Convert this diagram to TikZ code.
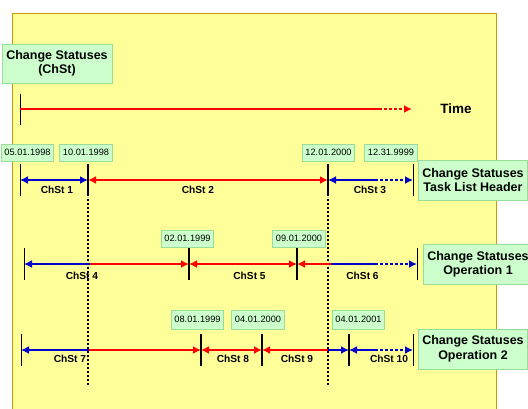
\documentclass[tikz,border=0pt]{standalone}
\usepackage{fontspec}
\setmainfont{Liberation Sans}
\usetikzlibrary{arrows.meta}
\usetikzlibrary{positioning}

\definecolor{bgyellow}{RGB}{255,255,153}
\definecolor{bgframe}{RGB}{204,153,0}
\definecolor{boxgreen}{RGB}{204,255,204}
\definecolor{boxframe}{RGB}{153,221,153}
\definecolor{chred}{RGB}{255,0,0}
\definecolor{chblue}{RGB}{0,0,204}

\tikzset{
  datebox/.style={draw=boxframe, fill=boxgreen, line width=1pt,
    font=\fontsize{9.2}{10}\selectfont, minimum width=51pt, minimum height=17pt},
  labelbox/.style={draw=boxframe, fill=boxgreen, line width=1pt, align=center,
    font=\bfseries\fontsize{12.5}{14.5}\selectfont, minimum width=104pt, minimum height=40pt},
  chlabel/.style={font=\bfseries\fontsize{10.2}{12}\selectfont},
  thintick/.style={line width=1pt},
  thicktick/.style={line width=2.5pt},
  cutline/.style={line width=2pt, dash pattern=on 2pt off 2pt},
  span/.style={line width=2.4pt},
  dotpart/.style={dash pattern=on 2.5pt off 2.5pt},
}

\begin{document}
\begin{tikzpicture}[x=1pt, y=-1pt, >={Latex[length=8pt,width=8pt]}]

    \useasboundingbox (0,0) rectangle (528,408);

    % background sheet
    \fill[bgyellow] (12,13) rectangle (496,412);
    \draw[bgframe, line width=1pt] (12,412) -- (12,13) -- (496,13) -- (496,412);

    % time axis
    \node[labelbox, minimum width=110pt, minimum height=39pt] (legend) at (57,63.5)
      {Change Statuses\\(ChSt)};
    \coordinate (t0) at (20,109);
    \coordinate (t1) at (379,109);
    \coordinate (t2) at (412,109);
    \draw[thintick] (t0) ++(0,-15.5) -- ++(0,31);
    \draw[span, chred] (t0) -- (t1);
    \draw[span, chred, dotpart, ->] (t1) -- (t2);
    \node[font=\bfseries\fontsize{13.5}{16}\selectfont] (time) at (456,109) {Time};

    % row 1: task list header
    \coordinate (a0) at (20,180);
    \coordinate (a1) at (88,180);
    \coordinate (a2) at (328,180);
    \coordinate (a3) at (375,180);
    \coordinate (a4) at (413,180);
    \draw[thintick] (a0) ++(0,-16) -- ++(0,32);
    \draw[thicktick] (a1) ++(0,-16) -- ++(0,32);
    \draw[thicktick] (a2) ++(0,-16) -- ++(0,32);
    \draw[thintick] (a4) ++(0,-16) -- ++(0,32);
    \draw[span, chblue, <->] (a0) -- (a1);
    \draw[span, chred, <->] (a1) -- (a2);
    \draw[span, chblue, <-] (a2) -- (a3);
    \draw[span, chblue, dotpart, ->] (a3) -- (a4);
    \node[chlabel] (s1) at (57,190) {ChSt 1};
    \node[chlabel] (s2) at (198,190) {ChSt 2};
    \node[chlabel] (s3) at (370,190) {ChSt 3};
    \node[datebox] (d1) at (27.5,152.5) {05.01.1998};
    \node[datebox] (d2) at (86,152.5) {10.01.1998};
    \node[datebox] (d3) at (328.5,152.5) {12.01.2000};
    \node[datebox] (d4) at (391,152.5) {12.31.9999};
    \node[labelbox] (header) at (473,180) {Change Statuses\\Task List Header};

    % dotted cut lines
    \coordinate (cut1) at (88,199);
    \coordinate (cut1e) at (88,386);
    \coordinate (cut2) at (328,199);
    \coordinate (cut2e) at (328,386);
    \draw[cutline] (cut1) -- (cut1e);
    \draw[cutline] (cut2) -- (cut2e);

    % row 2: operation 1
    \coordinate (b0) at (24,264);
    \coordinate (bc) at (90,264);
    \coordinate (b1) at (189,264);
    \coordinate (b2) at (297,264);
    \coordinate (bc2) at (331,264);
    \coordinate (b3) at (375,264);
    \coordinate (b4) at (417,264);
    \draw[thintick] (b0) ++(0,-16) -- ++(0,32);
    \draw[thicktick] (b1) ++(0,-16) -- ++(0,32);
    \draw[thicktick] (b2) ++(0,-16) -- ++(0,32);
    \draw[thintick] (b4) ++(0,-16) -- ++(0,32);
    \draw[span, chblue, <-] (b0) -- (bc);
    \draw[span, chred, ->] (bc) -- (b1);
    \draw[span, chred, <->] (b1) -- (b2);
    \draw[span, chred, <-] (b2) -- (bc2);
    \draw[span, chblue] (bc2) -- (b3);
    \draw[span, chblue, dotpart, ->] (b3) -- (b4);
    \node[chlabel] (s4) at (82,276) {ChSt 4};
    \node[chlabel] (s5) at (249.5,276) {ChSt 5};
    \node[chlabel] (s6) at (362.5,276) {ChSt 6};
    \node[datebox] (d5) at (187.5,238.5) {02.01.1999};
    \node[datebox] (d6) at (299,238.5) {09.01.2000};
    \node[labelbox] (oper1) at (478,264.5) {Change Statuses\\Operation 1};

    % row 3: operation 2
    \coordinate (c0) at (21,350);
    \coordinate (cc) at (89,350);
    \coordinate (c1) at (201,350);
    \coordinate (c2) at (262,350);
    \coordinate (cc2) at (328,350);
    \coordinate (c3) at (349,350);
    \coordinate (c4) at (375,350);
    \coordinate (c5) at (413,350);
    \draw[thintick] (c0) ++(0,-16) -- ++(0,32);
    \draw[thicktick] (c1) ++(0,-16) -- ++(0,32);
    \draw[thicktick] (c2) ++(0,-16) -- ++(0,32);
    \draw[thicktick] (c3) ++(0,-16) -- ++(0,32);
    \draw[thintick] (c5) ++(0,-16) -- ++(0,32);
    \draw[span, chblue, <-] (c0) -- (cc);
    \draw[span, chred, ->] (cc) -- (c1);
    \draw[span, chred, <->] (c1) -- (c2);
    \draw[span, chred, <-] (c2) -- (cc2);
    \draw[span, chblue, ->] (cc2) -- (c3);
    \draw[span, chblue, <-] (c3) -- (c4);
    \draw[span, chblue, dotpart, ->] (c4) -- (c5);
    \node[chlabel] (s7) at (70,359) {ChSt 7};
    \node[chlabel] (s8) at (233,359) {ChSt 8};
    \node[chlabel] (s9) at (297,359) {ChSt 9};
    \node[chlabel] (s10) at (389,359) {ChSt 10};
    \node[datebox, minimum height=19pt] (d7) at (197.5,319.5) {08.01.1999};
    \node[datebox, minimum height=19pt] (d8) at (258,319.5) {04.01.2000};
    \node[datebox, minimum height=19pt] (d9) at (358.5,319.5) {04.01.2001};
    \node[labelbox] (oper2) at (473,349) {Change Statuses\\Operation 2};

\end{tikzpicture}
\end{document}
